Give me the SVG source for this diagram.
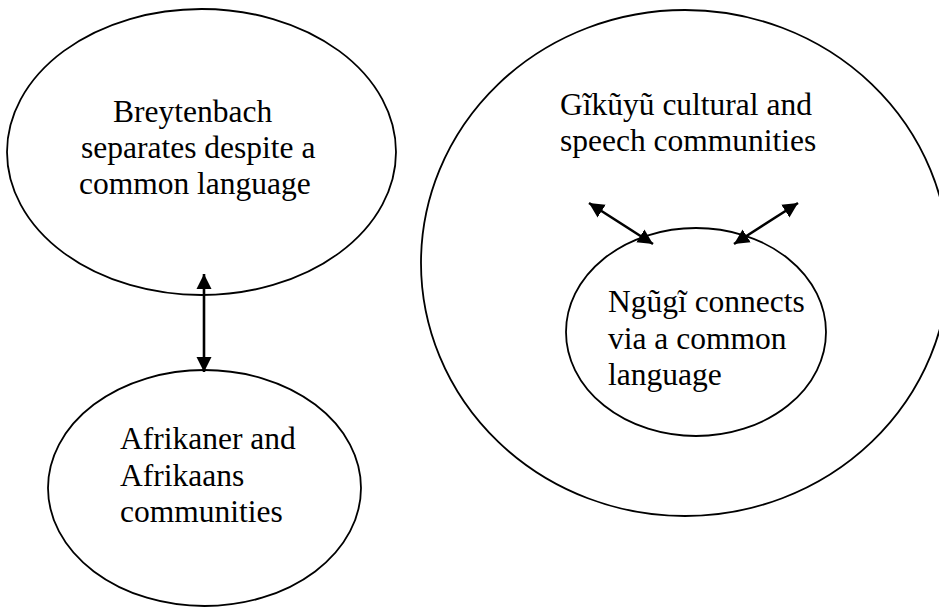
<svg xmlns="http://www.w3.org/2000/svg" width="939" height="608" viewBox="0 0 939 608">
<style>
.node ellipse{fill:none;stroke:#000;stroke-width:1.8}
.node text{font-family:"Liberation Serif","Times New Roman",serif;font-size:31.5px;fill:#000}
.conn line{stroke:#000;stroke-width:2.6}
</style>
<defs>
<marker id="ah" markerUnits="userSpaceOnUse" markerWidth="16" markerHeight="16" viewBox="0 0 16 16" refX="15" refY="8" orient="auto-start-reverse">
<path d="M0,0.5 L15,8 L0,15.5 Z" fill="#000"/>
</marker>
</defs>
<rect width="939" height="608" fill="#fff"/>
<g id="breytenbach" class="node">
<ellipse cx="201.5" cy="152" rx="194.5" ry="143"/>
<text x="113" y="122">Breytenbach</text>
<text x="81" y="158">separates despite a</text>
<text x="79" y="194">common language</text>
</g>
<g id="afrikaner" class="node">
<ellipse cx="204.5" cy="488" rx="156.5" ry="118"/>
<text x="120" y="449">Afrikaner and</text>
<text x="120" y="486">Afrikaans</text>
<text x="120" y="522">communities</text>
</g>
<g id="gikuyu" class="node">
<ellipse cx="685" cy="263" rx="264" ry="253"/>
<text x="560" y="115">Gĩkũyũ cultural and</text>
<text x="560" y="151">speech communities</text>
</g>
<g id="ngugi" class="node">
<ellipse cx="696" cy="332" rx="130" ry="104"/>
<text x="608" y="312">Ngũgĩ connects</text>
<text x="608" y="349">via a common</text>
<text x="608" y="385">language</text>
</g>
<g id="connectors" class="conn">
<line x1="204" y1="274" x2="204" y2="372" marker-start="url(#ah)" marker-end="url(#ah)"/>
<line x1="589" y1="203" x2="653" y2="244" marker-start="url(#ah)" marker-end="url(#ah)"/>
<line x1="798" y1="203" x2="734" y2="244" marker-start="url(#ah)" marker-end="url(#ah)"/>
</g>
</svg>
